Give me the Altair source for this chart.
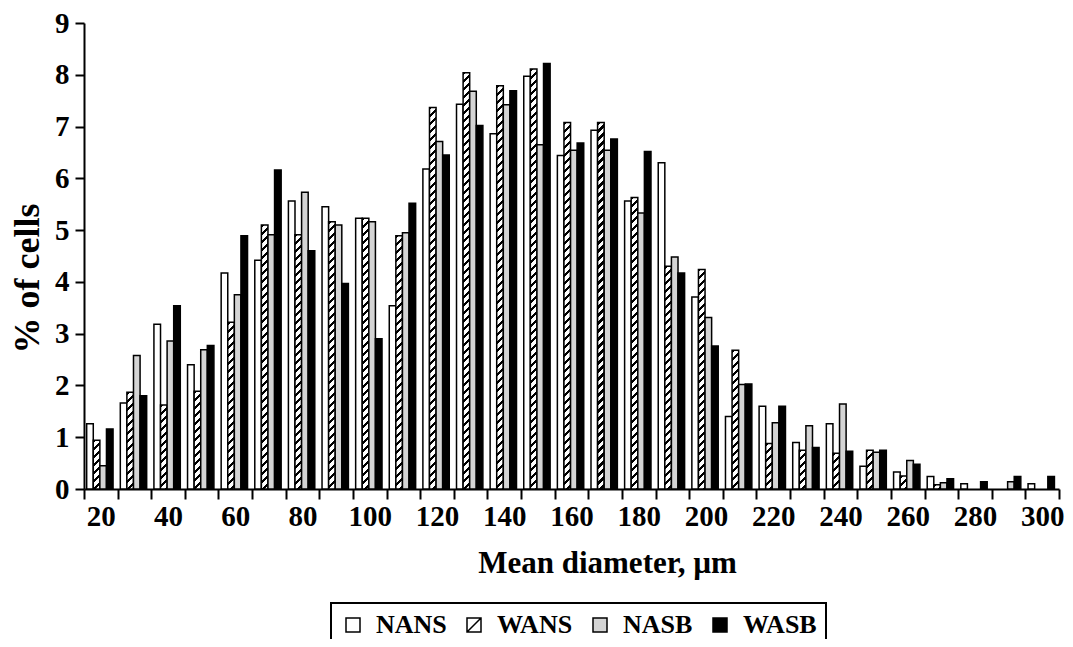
import math
import altair as alt

# ---- data ----
categories = [20, 30, 40, 50, 60, 70, 80, 90, 100, 110, 120, 130, 140, 150, 160,
              170, 180, 190, 200, 210, 220, 230, 240, 250, 260, 270, 280, 290, 300]
series_names = ["NANS", "WANS", "NASB", "WASB"]

nans = [1.26, 1.66, 3.18, 2.40, 4.17, 4.42, 5.56, 5.45, 5.23, 3.54, 6.18, 7.43, 6.86, 7.97, 6.44,
        6.93, 5.56, 6.30, 3.71, 1.40, 1.60, 0.90, 1.26, 0.44, 0.33, 0.24, 0.10, 0.0, 0.10]
wans = [0.94, 1.87, 1.62, 1.89, 3.22, 5.10, 4.91, 5.16, 5.23, 4.89, 7.37, 8.04, 7.79, 8.11, 7.08,
        7.08, 5.63, 4.30, 4.24, 2.68, 0.88, 0.75, 0.69, 0.75, 0.25, 0.08, 0.0, 0.0, 0.0]
nasb = [0.45, 2.58, 2.86, 2.69, 3.75, 4.91, 5.73, 5.10, 5.16, 4.95, 6.71, 7.68, 7.42, 6.65, 6.54,
        6.54, 5.33, 4.48, 3.31, 2.02, 1.28, 1.22, 1.64, 0.71, 0.55, 0.12, 0.0, 0.14, 0.0]
wasb = [1.16, 1.80, 3.54, 2.77, 4.89, 6.16, 4.60, 3.97, 2.90, 5.52, 6.45, 7.02, 7.69, 8.22, 6.68,
        6.76, 6.52, 4.17, 2.76, 2.03, 1.60, 0.80, 0.73, 0.75, 0.48, 0.20, 0.14, 0.24, 0.24]

# ---- style ----
FONT = "Liberation Serif"
W, H = 975, 466
Y_MAX = 9
GREY = "#d4d4d4"
solid_fill = {"NANS": "#ffffff", "NASB": GREY, "WASB": "#000000"}

BAR_W = 6.6     # approx bar width (px) for the hatch pattern
HATCH_P = 8.0   # vertical hatch period (px)


def hatch(value):
    """diagonal '/' hatch as a per-bar linear gradient (style only)"""
    w = BAR_W
    h = value / Y_MAX * H
    c = (w + h) / (w * w + h * h)
    n = (w + h) / HATCH_P
    stops = []
    k = 0
    while k / n < 1:
        a = k / n
        b = min((k + 0.38) / n, 1)
        stops += [{"offset": a, "color": "#ffffff"}, {"offset": a, "color": "#000000"},
                  {"offset": b, "color": "#000000"}, {"offset": b, "color": "#ffffff"}]
        k += 1
    stops.append({"offset": 1, "color": "#ffffff"})
    return {"gradient": "linear", "x1": 0, "y1": 0, "x2": c * w, "y2": c * h, "stops": stops}


records = []
for name, vals in zip(series_names, [nans, wans, nasb, wasb]):
    for cat, v in zip(categories, vals):
        if v <= 0:
            continue
        paint = hatch(v) if name == "WANS" else solid_fill[name]
        records.append({"cat": cat, "series": name, "v": v, "paint": paint})

data = alt.Data(values=records)

x_enc = alt.X(
    "cat:O",
    scale=alt.Scale(paddingInner=0, paddingOuter=0),
    sort=categories,
    axis=alt.Axis(
        tickBand="extent",
        labelExpr="datum.value % 20 == 0 ? datum.label : ''",
        labelAngle=0,
        labelOverlap=False,
        tickSize=10,
        labelPadding=3,
        title="Mean diameter, µm",
        titleX=523,
        titleY=83,
        titleAnchor="start",
        titleAlign="center",
        titleBaseline="alphabetic",
        titleFontSize=31,
    ),
)
y_enc = alt.Y(
    "v:Q",
    scale=alt.Scale(domain=[0, Y_MAX], nice=False),
    axis=alt.Axis(
        values=list(range(0, 10)),
        format="d",
        tickSize=9,
        labelPadding=6,
        title="% of cells",
        titleAngle=270,
        titleX=-46,
        titleY=255,
        titleAlign="center",
        titleBaseline="alphabetic",
        titleFontSize=36,
    ),
)

bars = alt.Chart(data).mark_bar(stroke="black", strokeWidth=1.5, strokeJoin="miter").encode(
    x=x_enc,
    xOffset=alt.XOffset("series:N", sort=series_names,
                        scale=alt.Scale(domain=series_names, paddingInner=0,
                                        paddingOuter=0.55, align=0.37)),
    y=y_enc,
    color=alt.Color("paint:N", scale=None, legend=None),
)

legend_opts = dict(
    title=None,
    orient="none",
    direction="horizontal",
    legendX=247,
    legendY=580,
)

HATCH_SYMBOL = "M-1,-1L1,-1L1,1L-1,1Z M-1,1L1,-1"

legend_pts = alt.Chart(data).transform_filter("false").mark_point(
    filled=True, opacity=1, size=196
).encode(
    x=alt.X("cat:O", sort=categories),
    y=alt.Y("v:Q"),
    stroke=alt.value("black"),
    strokeWidth=alt.value(1.5),
    fill=alt.Fill("series:N",
                  scale=alt.Scale(domain=series_names,
                                  range=["#ffffff", "#ffffff", GREY, "#000000"]),
                  legend=alt.Legend(**legend_opts)),
    shape=alt.Shape("series:N",
                    scale=alt.Scale(domain=series_names,
                                    range=["square", HATCH_SYMBOL, "square", "square"]),
                    legend=alt.Legend(**legend_opts)),
)

chart = alt.layer(bars, legend_pts).properties(
    width=W,
    height=H,
    autosize=alt.AutoSizeParams(type="none"),
    padding={"left": 76, "top": 15, "right": 6, "bottom": 150},
).configure_view(
    stroke=None
).configure_axis(
    labelFont=FONT,
    labelFontWeight="bold",
    labelFontSize=29,
    labelColor="black",
    titleFont=FONT,
    titleFontWeight="bold",
    titleColor="black",
    domainColor="black",
    domainWidth=2,
    tickColor="black",
    tickWidth=2,
    grid=False,
).configure_legend(
    strokeColor="black",
    strokeWidth=2,
    fillColor="white",
    padding=9,
    labelFont=FONT,
    labelFontWeight="bold",
    labelFontSize=26,
    labelColor="black",
    labelOffset=10,
    columnPadding=14,
    symbolSize=196,
    symbolStrokeWidth=1.5,
)

chart.save("out.html", embed_options={"renderer": "svg", "actions": False})
